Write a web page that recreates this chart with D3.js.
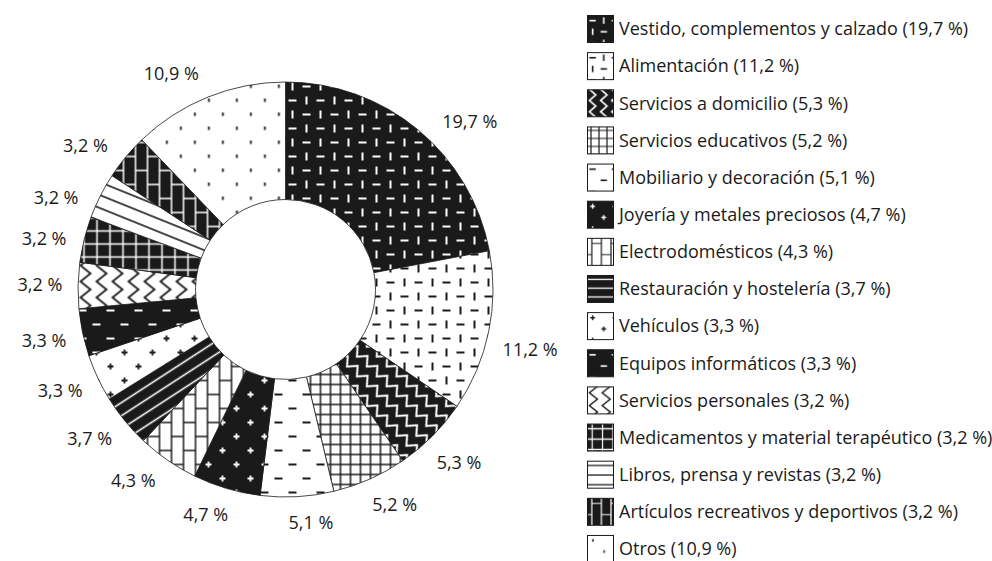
<!DOCTYPE html>
<html>
<head>
<meta charset="utf-8">
<script src="https://cdn.jsdelivr.net/npm/d3@7"></script>
<style>
  body { margin: 0; background: #fff; }
  text { font-family: "Open Sans", sans-serif; font-size: 18px; fill: #1a1a1a; }
</style>
</head>
<body>
<div id="chart"></div>
<script>
// ---- data ----
var categories = [
  "Vestido, complementos y calzado",
  "Alimentación",
  "Servicios a domicilio",
  "Servicios educativos",
  "Mobiliario y decoración",
  "Joyería y metales preciosos",
  "Electrodomésticos",
  "Restauración y hostelería",
  "Vehículos",
  "Equipos informáticos",
  "Servicios personales",
  "Medicamentos y material terapéutico",
  "Libros, prensa y revistas",
  "Artículos recreativos y deportivos",
  "Otros"
];
var values = [19.7, 11.2, 5.3, 5.2, 5.1, 4.7, 4.3, 3.7, 3.3, 3.3, 3.2, 3.2, 3.2, 3.2, 10.9];

// ---- fill styles, one per slice ----
var BLACK = "#1a1a1a", WHITE = "#fff";
var fills = [
  {kind: "checker", fg: WHITE, bg: BLACK},
  {kind: "checker", fg: BLACK, bg: WHITE},
  {kind: "zigR",    fg: WHITE, bg: BLACK, rot: -45},
  {kind: "grid",    fg: BLACK, bg: WHITE, size: 10},
  {kind: "dash",    fg: BLACK, bg: WHITE},
  {kind: "plus",    fg: WHITE, bg: BLACK},
  {kind: "brick",   fg: BLACK, bg: WHITE},
  {kind: "lines",   fg: WHITE, bg: BLACK, size: 11, rot: -33},
  {kind: "plus",    fg: BLACK, bg: WHITE},
  {kind: "dash",    fg: WHITE, bg: BLACK},
  {kind: "zigL",    fg: BLACK, bg: WHITE},
  {kind: "grid",    fg: WHITE, bg: BLACK, size: 13},
  {kind: "lines",   fg: BLACK, bg: WHITE, size: 12, rot: 22},
  {kind: "brick",   fg: WHITE, bg: BLACK},
  {kind: "dots",    fg: BLACK, bg: WHITE}
];
// small angular nudges (degrees) so the top labels clear the ring, as in the original
var labelNudge = [8, 2, 0, -3, -3, 3, 4, 2, 1, 0, 0, -2, -5, -4, -6];

var width = 992, height = 561;
var cx = 285.5, cy = 289.5, rOuter = 207.5, rInner = 90;
var labelGap = 223; // distance from centre to the nearest edge of a label box

var svg = d3.select("#chart").append("svg")
    .attr("width", width)
    .attr("height", height);
var defs = svg.append("defs");

function fmt(v) { return v.toFixed(1).replace(".", ",") + " %"; }

function makePattern(id, f, transform) {
  var w = 28, h = 28;
  if (f.kind == "zigR") { w = 14; h = 14; }
  if (f.kind == "zigL") { w = 16; h = 16; }
  if (f.kind == "grid" || f.kind == "lines") { w = f.size; h = f.size; }
  if (f.kind == "brick") { w = 24; h = 28; }

  var p = defs.append("pattern")
      .attr("id", id)
      .attr("patternUnits", "userSpaceOnUse")
      .attr("width", w)
      .attr("height", h);
  if (transform) p.attr("patternTransform", transform);
  p.append("rect").attr("width", w).attr("height", h).attr("fill", f.bg);

  var line = function(d, sw) {
    p.append("path").attr("d", d).attr("fill", "none")
      .attr("stroke", f.fg).attr("stroke-width", sw)
      .attr("stroke-linejoin", "miter");
  };

  if (f.kind == "checker") {
    [[3, 6, 8, 2], [20, 3, 2, 8], [6, 17, 2, 8], [17, 20, 8, 2]].forEach(function(r) {
      p.append("rect").attr("x", r[0]).attr("y", r[1]).attr("width", r[2]).attr("height", r[3]).attr("fill", f.fg);
    });
  } else if (f.kind == "dash") {
    [[3, 6], [17, 20]].forEach(function(r) {
      p.append("rect").attr("x", r[0]).attr("y", r[1]).attr("width", 8).attr("height", 2).attr("fill", f.fg);
    });
  } else if (f.kind == "dots") {
    [[6.5, 5], [20.5, 19]].forEach(function(r) {
      p.append("rect").attr("x", r[0]).attr("y", r[1]).attr("width", 1.8).attr("height", 3.5).attr("fill", f.fg);
    });
  } else if (f.kind == "plus") {
    line("M4,7H10M7,4V10M18,21H24M21,18V24", 1.8);
  } else if (f.kind == "zigR") {
    line("M11,-7L3,0L11,7L3,14L11,21", 2);
  } else if (f.kind == "zigL") {
    line("M3,-8L13,0L3,8L13,16L3,24", 1.8);
  } else if (f.kind == "grid") {
    line("M" + w / 2 + ",0V" + h + "M0," + h / 2 + "H" + w, 1.5);
  } else if (f.kind == "lines") {
    line("M0," + h / 2 + "H" + w, 1.6);
  } else if (f.kind == "brick") {
    line("M6,0V28M18,0V28M6,7H18M18,21H24M0,21H6", 1.5);
  }
}

fills.forEach(function(f, i) {
  makePattern("pie-" + i, f, f.rot ? "rotate(" + f.rot + ")" : null);
  makePattern("leg-" + i, f, "scale(0.8)");
});

// ---- donut ----
var pie = d3.pie().sort(null).value(function(d) { return d; });
var arc = d3.arc().innerRadius(rInner).outerRadius(rOuter);
var arcs = pie(values);

var g = svg.append("g").attr("transform", "translate(" + cx + "," + cy + ")");

g.selectAll("path.slice")
  .data(arcs)
  .enter().append("path")
    .attr("class", "slice")
    .attr("d", arc)
    .attr("fill", function(d, i) { return "url(#pie-" + i + ")"; })
    .attr("stroke", BLACK)
    .attr("stroke-width", 0.8);

// labels: push each box out along its mid angle until its near edge sits at labelGap
var labels = g.selectAll("text.lbl")
  .data(arcs)
  .enter().append("text")
    .attr("class", "lbl")
    .attr("text-anchor", "middle")
    .attr("dy", "0.35em")
    .text(function(d) { return fmt(d.data); });

labels.attr("transform", function(d, i) {
  var a = (d.startAngle + d.endAngle) / 2 + labelNudge[i] * Math.PI / 180;
  var s = Math.sin(a), c = Math.cos(a);
  var hw = this.getComputedTextLength() / 2, hh = 9;
  var r = labelGap + Math.abs(s) * hw + Math.abs(c) * hh;
  return "translate(" + (r * s) + "," + (-r * c) + ")";
});

// ---- legend ----
var rowH = 37.14, legX = 587, legY = 15, box = 26;

var leg = svg.append("g").selectAll("g")
  .data(categories)
  .enter().append("g")
    .attr("transform", function(d, i) { return "translate(" + legX + "," + (legY + i * rowH) + ")"; });

leg.append("rect")
    .attr("x", 0.5).attr("y", 0.5)
    .attr("width", box).attr("height", box + 1)
    .attr("fill", function(d, i) { return "url(#leg-" + i + ")"; })
    .attr("stroke", BLACK)
    .attr("stroke-width", 1);

leg.append("text")
    .attr("x", box + 6)
    .attr("y", box / 2 + 1)
    .attr("dy", "0.35em")
    .text(function(d, i) { return d + " (" + fmt(values[i]) + ")"; });
</script>
</body>
</html>
